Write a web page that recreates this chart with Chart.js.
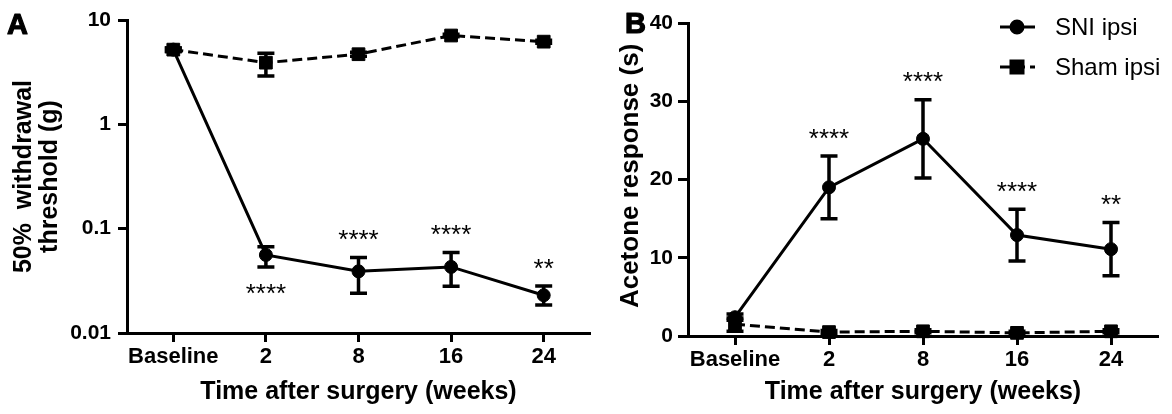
<!DOCTYPE html>
<html><head><meta charset="utf-8">
<script src="https://cdn.jsdelivr.net/npm/chart.js@4.4.0/dist/chart.umd.min.js"></script>
<style>
html,body{margin:0;padding:0;background:#fff;}
#wrap{position:relative;width:1172px;height:414px;overflow:hidden;}
#boxA{position:absolute;left:0;top:0;width:600px;height:414px;}
#boxB{position:absolute;left:600px;top:0;width:572px;height:414px;}
</style></head><body>
<div id="wrap"><div id="boxA"><canvas id="cA"></canvas></div><div id="boxB"><canvas id="cB"></canvas></div></div>
<script>
// ---------- data ----------
const categories = ['Baseline', '2', '8', '16', '24'];
const seriesNames = ['SNI ipsi', 'Sham ipsi'];

// Panel A: 50% withdrawal threshold (g), log scale
const sniA      = [5.2, 0.056, 0.039, 0.043, 0.023];
const sniALow   = [5.0, 0.043, 0.024, 0.028, 0.0186];
const sniAHigh  = [5.4, 0.067, 0.053, 0.059, 0.0282];
const shamA     = [5.2, 3.9, 4.7, 7.1, 6.2];
const shamALow  = [5.0, 2.9, 4.5, 6.9, 6.0];
const shamAHigh = [5.4, 4.8, 4.9, 7.3, 6.4];
const yTicksA      = [0.01, 0.1, 1, 10];
const yTickLabelsA = ['0.01', '0.1', '1', '10'];
const starsA    = ['', '****', '****', '****', '**'];
const starSideA = ['', 'below', 'above', 'above', 'above'];

// Panel B: Acetone response (s)
const sniB      = [2.4, 19.0, 25.2, 12.9, 11.1];
const sniBLow   = [2.0, 15.0, 20.2, 9.6, 7.7];
const sniBHigh  = [2.8, 23.0, 30.2, 16.2, 14.5];
const shamB     = [1.5, 0.5, 0.6, 0.4, 0.6];
const shamBLow  = [0.6, 0.3, 0.4, 0.2, 0.4];
const shamBHigh = [2.3, 0.7, 0.8, 0.6, 0.8];
const yTicksB      = [0, 10, 20, 30, 40];
const yTickLabelsB = ['0', '10', '20', '30', '40'];
const starsB    = ['', '****', '****', '****', '**'];
const starSideB = ['', 'above', 'above', 'above', 'above'];

// ---------- style ----------
const FONT = '"Liberation Sans", Arial, Helvetica, sans-serif';
const BLACK = '#000';

const errorBars = {
  id: 'errorBars',
  afterDatasetsDraw(chart) {
    const ctx = chart.ctx, xs = chart.scales.x, ys = chart.scales.y;
    chart.data.datasets.forEach(ds => {
      if (!ds.errLow) return;
      ctx.save();
      ctx.strokeStyle = BLACK; ctx.lineWidth = 3.5; ctx.lineCap = 'butt';
      ds.data.forEach((v, i) => {
        const px = xs.getPixelForValue(i);
        const lo = ys.getPixelForValue(ds.errLow[i]);
        const hi = ys.getPixelForValue(ds.errHigh[i]);
        ctx.beginPath();
        ctx.moveTo(px, lo); ctx.lineTo(px, hi);
        ctx.moveTo(px - 8.5, lo); ctx.lineTo(px + 8.5, lo);
        ctx.moveTo(px - 8.5, hi); ctx.lineTo(px + 8.5, hi);
        ctx.stroke();
      });
      ctx.restore();
    });
  }
};

const stars = {
  id: 'stars',
  afterDatasetsDraw(chart, args, opts) {
    if (!opts || !opts.texts) return;
    const ctx = chart.ctx, xs = chart.scales.x, ys = chart.scales.y;
    const ds = chart.data.datasets[0];
    const size = 26;
    ctx.save();
    ctx.fillStyle = BLACK;
    ctx.font = size + 'px ' + FONT;
    ctx.textAlign = 'center';
    ctx.textBaseline = 'alphabetic';
    opts.texts.forEach((t, i) => {
      if (!t) return;
      const px = xs.getPixelForValue(i);
      let vis;
      if (opts.sides[i] === 'below') vis = ys.getPixelForValue(ds.errLow[i]) + 19;
      else vis = ys.getPixelForValue(ds.errHigh[i]) - 25;
      ctx.fillText(t, px, vis + 0.6 * size);
    });
    ctx.restore();
  }
};

const panelLetter = {
  id: 'panelLetter',
  afterDraw(chart, args, opts) {
    if (!opts || !opts.text) return;
    const ctx = chart.ctx;
    ctx.save();
    ctx.fillStyle = BLACK; ctx.strokeStyle = BLACK; ctx.lineWidth = 1.2; ctx.lineJoin = 'round';
    ctx.font = 'bold 29px ' + FONT;
    ctx.textAlign = 'left';
    ctx.textBaseline = 'alphabetic';
    ctx.fillText(opts.text, opts.x, opts.y);
    ctx.strokeText(opts.text, opts.x, opts.y);
    ctx.restore();
  }
};

const lineLegend = {
  id: 'lineLegend',
  afterDraw(chart, args, opts) {
    if (!opts || !opts.show) return;
    const ctx = chart.ctx;
    chart.data.datasets.forEach((ds, i) => {
      const y = opts.y + i * opts.gap;
      ctx.save();
      ctx.strokeStyle = BLACK; ctx.fillStyle = BLACK;
      ctx.lineWidth = ds.borderWidth;
      ctx.setLineDash(ds.borderDash || []);
      ctx.beginPath(); ctx.moveTo(opts.x, y); ctx.lineTo(opts.x + 35, y); ctx.stroke();
      ctx.setLineDash([]);
      Chart.helpers.drawPoint(ctx, {pointStyle: ds.pointStyle, radius: ds.pointRadius - 0.5, borderWidth: 1, rotation: 0}, opts.x + 17, y);
      ctx.font = '24px ' + FONT;
      ctx.textAlign = 'left'; ctx.textBaseline = 'middle';
      ctx.fillText(ds.label, opts.x + 55, y + 1);
      ctx.restore();
    });
  }
};

function datasets(sni, sniLo, sniHi, sham, shamLo, shamHi) {
  return [
    { label: seriesNames[0], data: sni, errLow: sniLo, errHigh: sniHi,
      borderColor: BLACK, borderWidth: 3, pointStyle: 'circle', pointRadius: 6.5,
      pointBackgroundColor: BLACK, pointBorderColor: BLACK, pointBorderWidth: 1,
      tension: 0, clip: false, fill: false },
    { label: seriesNames[1], data: sham, errLow: shamLo, errHigh: shamHi,
      borderColor: BLACK, borderWidth: 3, borderDash: [10, 5], pointStyle: 'rect', pointRadius: 9,
      pointBackgroundColor: BLACK, pointBorderColor: BLACK, pointBorderWidth: 1,
      tension: 0, clip: false, fill: false }
  ];
}

const xScale = (height) => ({
  type: 'category', offset: true,
  afterFit: s => { s.height = height; },
  grid: { drawOnChartArea: false, tickLength: 9, tickWidth: 3, tickColor: BLACK, offset: false },
  border: { color: BLACK, width: 3 },
  ticks: { color: BLACK, padding: 2, font: { family: FONT, size: 22, weight: 'bold' }, maxRotation: 0, autoSkip: false },
  title: { display: true, text: 'Time after surgery (weeks)', color: BLACK,
           font: { family: FONT, size: 25, weight: 'bold' }, padding: { top: 0, bottom: 7 } }
});

Chart.defaults.animation = false;

// ---------- Panel A ----------
new Chart(document.getElementById('cA'), {
  type: 'line',
  data: { labels: categories, datasets: datasets(sniA, sniALow, sniAHigh, shamA, shamALow, shamAHigh) },
  options: {
    responsive: true, maintainAspectRatio: false, devicePixelRatio: 1, animation: false,
    layout: { padding: { left: 0, right: 2, top: 20, bottom: 0 } },
    plugins: {
      legend: { display: false }, tooltip: { enabled: false },
      stars: { texts: starsA, sides: starSideA },
      panelLetter: { text: 'A', x: 7, y: 34 },
      lineLegend: { show: false }
    },
    scales: {
      x: xScale(81),
      y: {
        type: 'logarithmic', position: 'left', min: 0.01, max: 10,
        afterFit: s => { s.width = 127; },
        afterBuildTicks: s => { s.ticks = yTicksA.map(v => ({ value: v })); },
        grid: { drawOnChartArea: false, tickLength: 9, tickWidth: 3, tickColor: BLACK },
        border: { color: BLACK, width: 3 },
        ticks: { color: BLACK, padding: 7, font: { family: FONT, size: 21, weight: 'bold' },
                 callback: v => yTickLabelsA[yTicksA.indexOf(v)] },
        title: { display: true, text: ['50%  withdrawal', 'threshold (g)'], color: BLACK,
                 font: { family: FONT, size: 25, weight: 'bold', lineHeight: '26px' }, padding: { top: 11, bottom: 0 } }
      },
      yMinor: {
        type: 'logarithmic', position: 'left', min: 0.01, max: 10,
        afterFit: s => { s.width = 0; },
        afterBuildTicks: s => {
          const t = [];
          yTicksA.slice(0, -1).forEach(d => { for (let m = 2; m <= 9; m++) t.push({ value: d * m }); });
          s.ticks = t;
        },
        grid: { drawOnChartArea: false, tickLength: 5, tickWidth: 2.5, tickColor: BLACK },
        border: { display: false },
        ticks: { display: false }
      }
    }
  },
  plugins: [errorBars, stars, panelLetter, lineLegend]
});

// ---------- Panel B ----------
new Chart(document.getElementById('cB'), {
  type: 'line',
  data: { labels: categories, datasets: datasets(sniB, sniBLow, sniBHigh, shamB, shamBLow, shamBHigh) },
  options: {
    responsive: true, maintainAspectRatio: false, devicePixelRatio: 1, animation: false,
    layout: { padding: { left: 0, right: 14, top: 23, bottom: 0 } },
    plugins: {
      legend: { display: false }, tooltip: { enabled: false },
      stars: { texts: starsB, sides: starSideB },
      panelLetter: { text: 'B', x: 25, y: 33 },
      lineLegend: { show: true, x: 400, y: 27, gap: 40 }
    },
    scales: {
      x: xScale(78),
      y: {
        type: 'linear', position: 'left', min: 0, max: 40,
        afterFit: s => { s.width = 88; },
        afterBuildTicks: s => { s.ticks = yTicksB.map(v => ({ value: v })); },
        grid: { drawOnChartArea: false, tickLength: 10, tickWidth: 3, tickColor: BLACK },
        border: { color: BLACK, width: 3 },
        ticks: { color: BLACK, padding: 5, font: { family: FONT, size: 21, weight: 'bold' },
                 callback: v => yTickLabelsB[yTicksB.indexOf(v)] },
        title: { display: true, text: ' Acetone response (s)', color: BLACK,
                 font: { family: FONT, size: 26, weight: 'bold' }, padding: { top: 15, bottom: 0 } }
      }
    }
  },
  plugins: [errorBars, stars, panelLetter, lineLegend]
});
</script>
</body></html>
